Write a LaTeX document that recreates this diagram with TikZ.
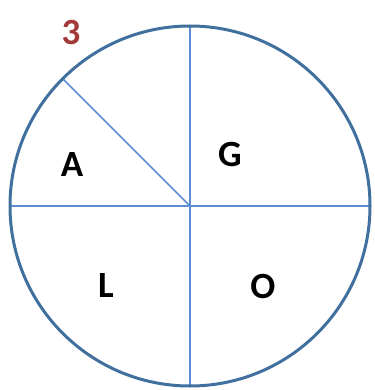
\documentclass[tikz,border=0pt]{standalone}
\usepackage{fontspec}
\setmainfont{Carlito}
\definecolor{rimblue}{HTML}{41709F}
\definecolor{lineblue}{HTML}{5B8ED0}
\definecolor{numred}{HTML}{A33A3A}
\begin{document}
\begin{tikzpicture}[x=1pt,y=-1pt,
  rim/.style={draw=rimblue,line width=3pt},
  divider/.style={draw=lineblue,line width=1.6pt},
  letter/.style={font=\fontsize{37}{37}\selectfont\bfseries,text=black,inner sep=0pt},
  numlabel/.style={font=\fontsize{37}{37}\selectfont\bfseries,text=numred,inner sep=0pt}]
\useasboundingbox (0,0) rectangle (374,390);
\coordinate (c) at (190,206);
\coordinate (top) at (190,26);
\coordinate (bot) at (190,386);
\coordinate (lft) at (10,206);
\coordinate (rgt) at (370,206);
\coordinate (diag) at (62.7,78.7);
\draw[divider] (top) -- (bot);
\draw[divider] (lft) -- (rgt);
\draw[divider] (c) -- (diag);
\draw[rim] (c) circle[radius=180];
\node[numlabel] (n3) at (71,32) {3};
\node[letter] (A) at (72,165) {A};
\node[letter] (G) at (230,154) {G};
\node[letter] (L) at (106,286) {L};
\node[letter] (O) at (263,286) {O};
\end{tikzpicture}
\end{document}
